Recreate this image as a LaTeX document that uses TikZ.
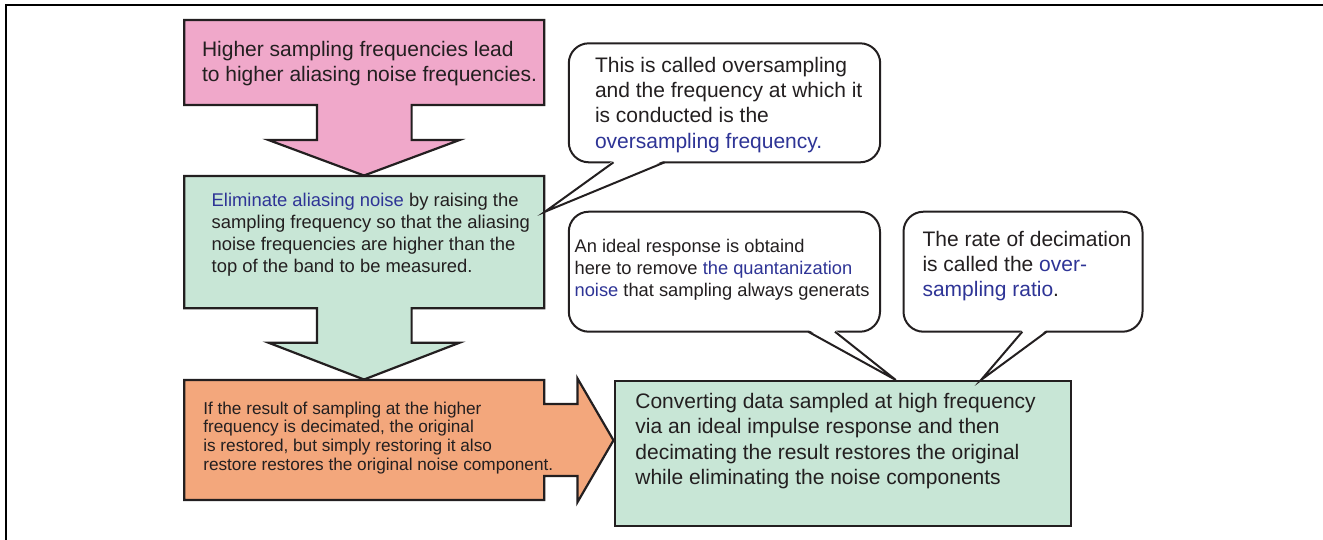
\documentclass[tikz,border=0pt]{standalone}
\usepackage{fontspec}
\setmainfont{Liberation Sans}
\definecolor{pinkF}{RGB}{240,168,202}
\definecolor{greenF}{RGB}{200,230,214}
\definecolor{orangeF}{RGB}{243,167,124}
\definecolor{blueT}{RGB}{46,52,150}
\definecolor{darkT}{RGB}{35,31,32}
\newcommand{\bl}[1]{\textcolor{blueT}{#1}}
\tikzset{
  blockarrow/.style={draw=darkT, line width=2.2pt, line join=miter},
  bubble/.style={draw=darkT, line width=2pt, fill=white, rounded corners=20pt},
  tail/.style={draw=darkT, line width=2pt, line join=miter},
  txt/.style={anchor=base west, inner sep=0pt, outer sep=0pt, text=darkT}
}
\begin{document}
\begin{tikzpicture}[x=1pt,y=-1pt]
\useasboundingbox (0,0) rectangle (1323,539);
% frame
\draw[line width=2.2pt, line join=miter] (5.7,545) -- (5.7,5) -- (1330,5);

% pink block arrow
\filldraw[blockarrow, fill=pinkF] (184.3,20) -- (544.2,20) -- (544.2,105) -- (411.6,105) -- (411.6,140) -- (459.6,140) -- (364,175.5) -- (268.5,140) -- (317,140) -- (317,105) -- (184.3,105) -- cycle;
% green block arrow
\filldraw[blockarrow, fill=greenF] (184.3,176) -- (544.2,176) -- (544.2,308.3) -- (411.6,308.3) -- (411.6,342.7) -- (459.6,342.7) -- (364,379.5) -- (268.5,342.7) -- (317,342.7) -- (317,308.3) -- (184.3,308.3) -- cycle;
% orange block arrow
\filldraw[blockarrow, fill=orangeF] (184.3,380) -- (544.2,380) -- (544.2,404) -- (577.4,404) -- (577.4,378.3) -- (613.5,440.3) -- (577.4,502.3) -- (577.4,476) -- (544.2,476) -- (544.2,500) -- (184.3,500) -- cycle;
% result box
\node[draw=darkT, line width=2.2pt, fill=greenF, minimum width=456pt, minimum height=145pt, anchor=north west, inner sep=0pt] (res) at (613.5,380) {};

% callout 1
\coordinate (tip1) at (545,211.7);
\draw[bubble] (568.8,43.3) rectangle (880.2,162.3);
\fill[white] (613.5,160.3) -- (664.6,160.3) -- (tip1) -- cycle;
\draw[tail] (613.5,162.3) -- (tip1) -- (664.6,162.3);
% callout 2
\coordinate (tip2) at (895.8,380);
\draw[bubble] (568.8,211.7) rectangle (880,331.7);
\fill[white] (808.2,329.7) -- (835,329.7) -- (tip2) -- cycle;
\draw[tail] (808.2,331.7) -- (tip2) -- (835,331.7);
% callout 3
\coordinate (tip3) at (981,380);
\draw[bubble] (903.5,211.7) rectangle (1142.5,331.7);
\fill[white] (1022.3,329.7) -- (1046.6,329.7) -- (tip3) -- cycle;
\draw[tail] (1022.3,331.7) -- (tip3) -- (1046.6,331.7);

% texts
\node[txt] (tpink) at (202,56) {\vtop{\fontsize{21}{25.5}\selectfont
  \hbox{Higher sampling frequencies lead}
  \hbox{to higher aliasing noise frequencies.}}};
\node[txt] (tgreen) at (211.7,206) {\vtop{\fontsize{18.4}{22.3}\selectfont
  \hbox{\bl{Eliminate aliasing noise} by raising the}
  \hbox{sampling frequency so that the aliasing}
  \hbox{noise frequencies are higher than the}
  \hbox{top of the band to be measured.}}};
\node[txt] (torange) at (203.3,414) {\vtop{\fontsize{17.2}{18.7}\selectfont
  \hbox{If the result of sampling at the higher}
  \hbox{frequency is decimated, the original}
  \hbox{is restored, but simply restoring it also}
  \hbox{restore restores the original noise component.}}};
\node[txt] (tres) at (635.4,408.5) {\vtop{\fontsize{21}{25.3}\selectfont
  \hbox{Converting data sampled at high frequency}
  \hbox{via an ideal impulse response and then}
  \hbox{decimating the result restores the original}
  \hbox{while eliminating the noise components}}};
\node[txt] (tc1) at (595,72.5) {\vtop{\fontsize{21}{25.2}\selectfont
  \hbox{This is called oversampling}
  \hbox{and the frequency at which it}
  \hbox{is conducted is the}
  \hbox{\bl{oversampling frequency.}}}};
\node[txt] (tc2) at (574.6,252) {\vtop{\fontsize{18.3}{22.3}\selectfont
  \hbox{An ideal response is obtaind}
  \hbox{here to remove \bl{the quantanization}}
  \hbox{\bl{noise} that sampling always generats}}};
\node[txt] (tc3) at (922.5,246) {\vtop{\fontsize{21}{25}\selectfont
  \hbox{The rate of decimation}
  \hbox{is called the \bl{over-}}
  \hbox{\bl{sampling ratio}.}}};
\end{tikzpicture}
\end{document}
